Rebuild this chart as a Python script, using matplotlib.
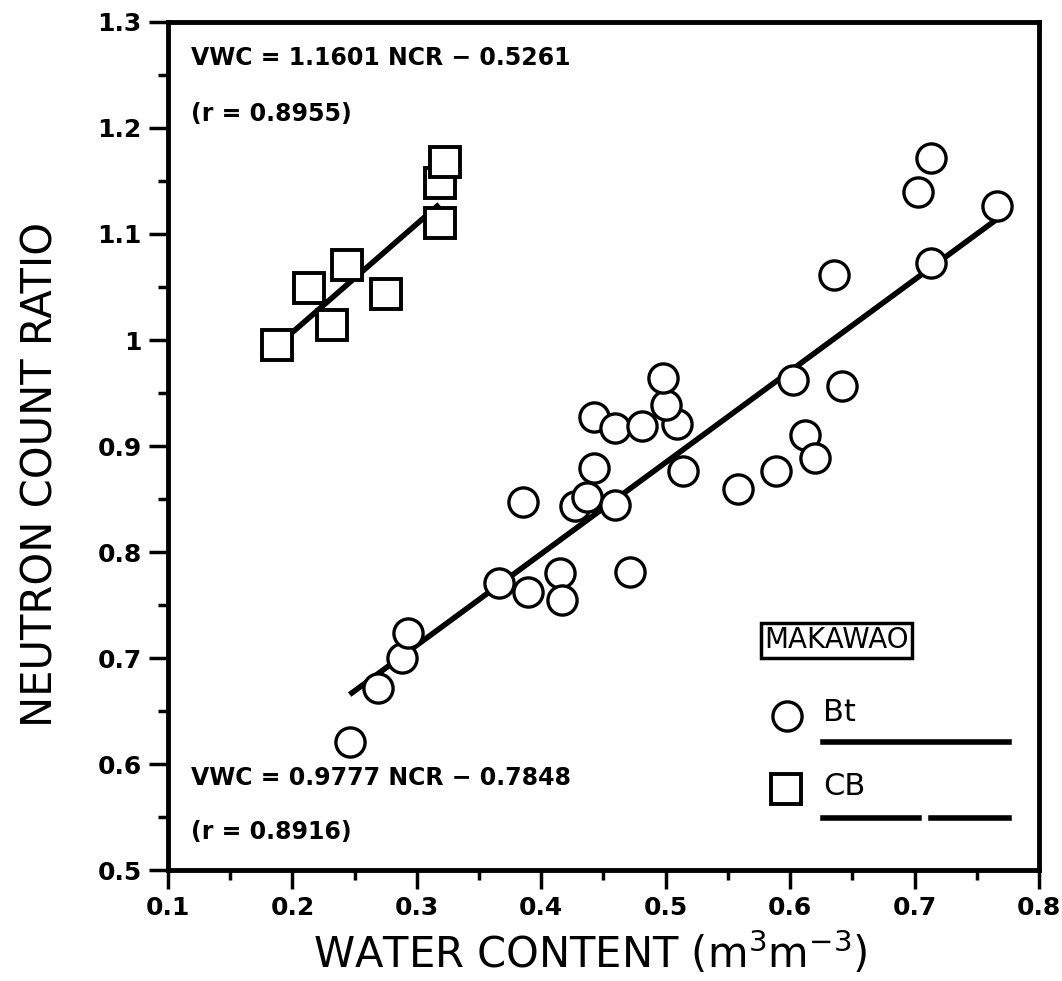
#!/usr/bin/env python
# -*- coding: utf-8 -*-

import matplotlib
matplotlib.use('Agg')
import matplotlib.pyplot as plt
import numpy as np

# Data__________________________________________________________________________

# Bt horizon (circles): water content, neutron count ratio
bt_vwc = [0.246, 0.269, 0.288, 0.293, 0.366, 0.389, 0.415, 0.417, 0.471,
          0.385, 0.427, 0.437, 0.459, 0.442, 0.514, 0.442, 0.459, 0.481,
          0.509, 0.500, 0.498, 0.558, 0.589, 0.612, 0.620, 0.602, 0.642,
          0.635, 0.713, 0.703, 0.713, 0.766]
bt_ncr = [0.621, 0.672, 0.700, 0.724, 0.771, 0.762, 0.780, 0.755, 0.781,
          0.847, 0.843, 0.852, 0.844, 0.879, 0.876, 0.927, 0.917, 0.919,
          0.921, 0.939, 0.964, 0.859, 0.876, 0.910, 0.889, 0.962, 0.957,
          1.061, 1.073, 1.140, 1.172, 1.126]

# CB horizon (squares)
cb_vwc = [0.188, 0.213, 0.232, 0.244, 0.275, 0.319, 0.319, 0.323]
cb_ncr = [0.995, 1.049, 1.014, 1.071, 1.043, 1.110, 1.148, 1.168]

# Regression VWC = a * NCR + b, and the x range each line covers
bt_fit = (1.1601, -0.5261)
bt_range = (0.246, 0.766)
cb_fit = (0.9777, -0.7848)
cb_range = (0.188, 0.318)

xticks = [0.1, 0.2, 0.3, 0.4, 0.5, 0.6, 0.7, 0.8]
yticks = [0.5, 0.6, 0.7, 0.8, 0.9, 1.0, 1.1, 1.2, 1.3]
ytick_labels = ['0.5', '0.6', '0.7', '0.8', '0.9', '1', '1.1', '1.2', '1.3']


# Functions_____________________________________________________________________

def fit_line(fit, xr):
    a, b = fit
    x = np.array(xr)
    return x, (x - b) / a


def main():
    fig = plt.figure(figsize=(10.62, 9.81), dpi=100)
    ax = fig.add_axes([0.1582, 0.1131, 0.8201, 0.8645])

    # Regression lines
    x, y = fit_line(bt_fit, bt_range)
    ax.plot(x, y, color='black', lw=4, solid_capstyle='butt', zorder=2)
    x, y = fit_line(cb_fit, cb_range)
    ax.plot(x, y, color='black', lw=4, solid_capstyle='butt', zorder=2)

    # Points
    ax.plot(bt_vwc, bt_ncr, 'o', ms=21, mfc='white', mec='black', mew=2.4,
            zorder=3)
    ax.plot(cb_vwc, cb_ncr, 's', ms=21, mfc='white', mec='black', mew=2.8,
            zorder=3)

    # Axes
    ax.set_xlim(0.1, 0.8)
    ax.set_ylim(0.5, 1.3)
    ax.set_xticks(xticks)
    ax.set_xticklabels(['%.1f' % v for v in xticks])
    ax.set_yticks(yticks)
    ax.set_yticklabels(ytick_labels)
    ax.set_xticks(np.arange(0.15, 0.8, 0.1), minor=True)
    ax.set_yticks(np.arange(0.55, 1.3, 0.1), minor=True)
    ax.tick_params(which='major', direction='out', length=14, width=2.5,
                   labelsize=18, pad=5)
    ax.tick_params(which='minor', direction='out', length=7, width=2.5)
    for lab in ax.get_xticklabels() + ax.get_yticklabels():
        lab.set_fontweight('heavy')
    for sp in ax.spines.values():
        sp.set_linewidth(3.5)

    ax.set_xlabel('WATER CONTENT (m$^{3}$m$^{-3}$)', fontsize=30)
    ax.set_ylabel('NEUTRON COUNT RATIO', fontsize=30)
    ax.xaxis.set_label_coords(0.4845, -0.07)
    ax.yaxis.set_label_coords(-0.122, 0.466)

    # Equations
    ax.text(0.026, 0.958, 'VWC = 1.1601 NCR \u2212 0.5261', transform=ax.transAxes,
            fontsize=17, fontweight='bold', va='center')
    ax.text(0.026, 0.892, '(r = 0.8955)', transform=ax.transAxes,
            fontsize=17, fontweight='bold', va='center')
    ax.text(0.026, 0.108, 'VWC = 0.9777 NCR \u2212 0.7848', transform=ax.transAxes,
            fontsize=17, fontweight='bold', va='center')
    ax.text(0.026, 0.045, '(r = 0.8916)', transform=ax.transAxes,
            fontsize=17, fontweight='bold', va='center')

    # Legend drawn by hand
    ax.text(0.685, 0.271, 'MAKAWAO', transform=ax.transAxes, fontsize=20,
            va='center', ha='left',
            bbox=dict(boxstyle='square,pad=0.12', fc='white', ec='black', lw=2.5))
    ax.plot([0.711], [0.182], 'o', ms=21, mfc='white', mec='black', mew=2.4,
            transform=ax.transAxes, clip_on=False)
    ax.text(0.752, 0.186, 'Bt', transform=ax.transAxes, fontsize=22,
            va='center', ha='left')
    ax.plot([0.752, 0.966], [0.151, 0.151], color='black', lw=4,
            transform=ax.transAxes)
    ax.plot([0.709], [0.095], 's', ms=21, mfc='white', mec='black', mew=2.8,
            transform=ax.transAxes, clip_on=False)
    ax.text(0.752, 0.099, 'CB', transform=ax.transAxes, fontsize=22,
            va='center', ha='left')
    ax.plot([0.752, 0.862], [0.061, 0.061], color='black', lw=4,
            transform=ax.transAxes)
    ax.plot([0.876, 0.966], [0.061, 0.061], color='black', lw=4,
            transform=ax.transAxes)

    plt.savefig('out.png', dpi=100)


# Main__________________________________________________________________________

if __name__ == "__main__":
    main()
